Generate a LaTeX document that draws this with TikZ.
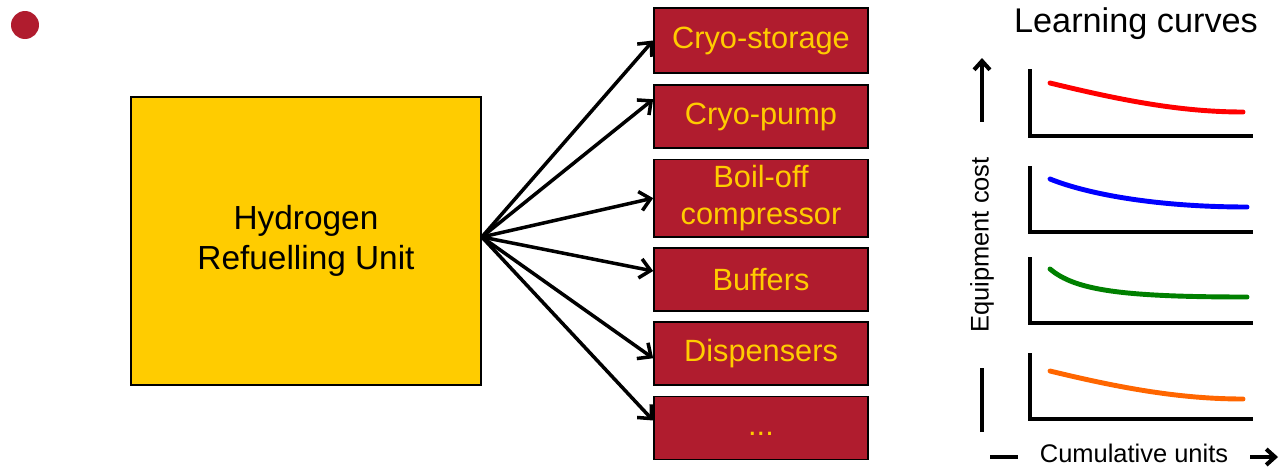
\documentclass[tikz,border=0pt]{standalone}
\usepackage{fontspec}
\setmainfont{Liberation Sans}
\usepackage{xcolor}
\usepackage{tikz}
\usetikzlibrary{arrows.meta, positioning}

\definecolor{rosso}{HTML}{B01C2E}
\definecolor{giallo}{HTML}{FFCC00}
\definecolor{arancio}{HTML}{FF6600}
\definecolor{verde}{HTML}{008000}

\begin{document}
\begin{tikzpicture}[x=0.02cm, y=-0.02cm,
    blocco/.style = {draw=black, line width=1pt, fill=rosso, text=giallo,
      minimum width=4.28cm, minimum height=1.26cm, align=center,
      font=\fontsize{17.5}{21}\selectfont},
    freccia/.style = {line width=2pt, -{Straight Barb[length=6pt, width=11pt]}},
    freccia asse/.style = {line width=2.3pt, -{Straight Barb[length=5pt, width=9pt]}},
    assi/.style = {line width=2.3pt},
    curva/.style = {line width=2.8pt, line cap=round},
    etichetta/.style = {fill=white, inner ysep=1pt, font=\fontsize{14.5}{17}\selectfont}]

    \useasboundingbox (0,0) rectangle (1280,467);

    % pallino in alto a sinistra
    \fill[rosso] (25,25) circle (0.28cm);

    % blocco principale
    \node[draw=black, line width=1pt, fill=giallo, minimum width=7cm, minimum height=5.76cm,
          align=center, font=\fontsize{19}{22.8}\selectfont] (hru) at (306,241) {Hydrogen\\Refuelling Unit};

    % componenti, uno sotto l'altro
    \node[blocco, minimum height=1.3cm] (b1) at (761,40.5) {Cryo-storage};
    \node[blocco, below=0.21cm of b1] (b2) {Cryo-pump};
    \node[blocco, below=0.19cm of b2, minimum height=1.48cm] (b3) {Boil-off\\compressor};
    \node[blocco, below=0.19cm of b3] (b4) {Buffers};
    \node[blocco, below=0.19cm of b4] (b5) {Dispensers};
    \node[blocco, below=0.19cm of b5] (b6) {\strut...};

    % frecce dal blocco principale
    \coordinate (hub) at ([yshift=0.08cm]hru.east);
    \draw[freccia] (hub) -- (b1.west);
    \draw[freccia] (hub) -- ([yshift=0.35cm]b2.west);
    \draw[freccia] (hub) -- (b3.west);
    \draw[freccia] (hub) -- ([yshift=0.17cm]b4.west);
    \draw[freccia] (hub) -- ([yshift=-0.09cm]b5.west);
    \draw[freccia] (hub) -- ([yshift=0.15cm]b6.west);

    % curve di apprendimento
    \node[font=\fontsize{19.5}{23}\selectfont, anchor=base] (titolo) at (1136,32) {Learning curves};

    \foreach \t/\b in {69/136, 166/232, 257/323, 353/419}
      \draw[assi] (1030,\t) |- (1253,\b);

    \draw[curva, red] (1050,83) .. controls (1120,100) and (1180,112) .. (1243,112);
    \draw[curva, blue] (1050,179) .. controls (1090,195) and (1160,207) .. (1247,207);
    \draw[curva, verde] (1050,269) .. controls (1075,290) and (1120,297) .. (1247,297);
    \draw[curva, arancio] (1050,371) .. controls (1120,388) and (1180,399) .. (1243,399);

    % assi con etichette
    \coordinate (ybasso) at (982,432);
    \coordinate (yalto) at (982,58);
    \draw[freccia asse] (ybasso) -- node[etichetta, rotate=90, inner xsep=0.7cm] (ylab) {Equipment cost} (yalto);
    \coordinate (xsx) at (990,457);
    \coordinate (xdx) at (1278,457);
    \draw[freccia asse] (xsx) -- node[etichetta, inner xsep=0.44cm, yshift=0.07cm] (xlab) {Cumulative units} (xdx);
\end{tikzpicture}
\end{document}
